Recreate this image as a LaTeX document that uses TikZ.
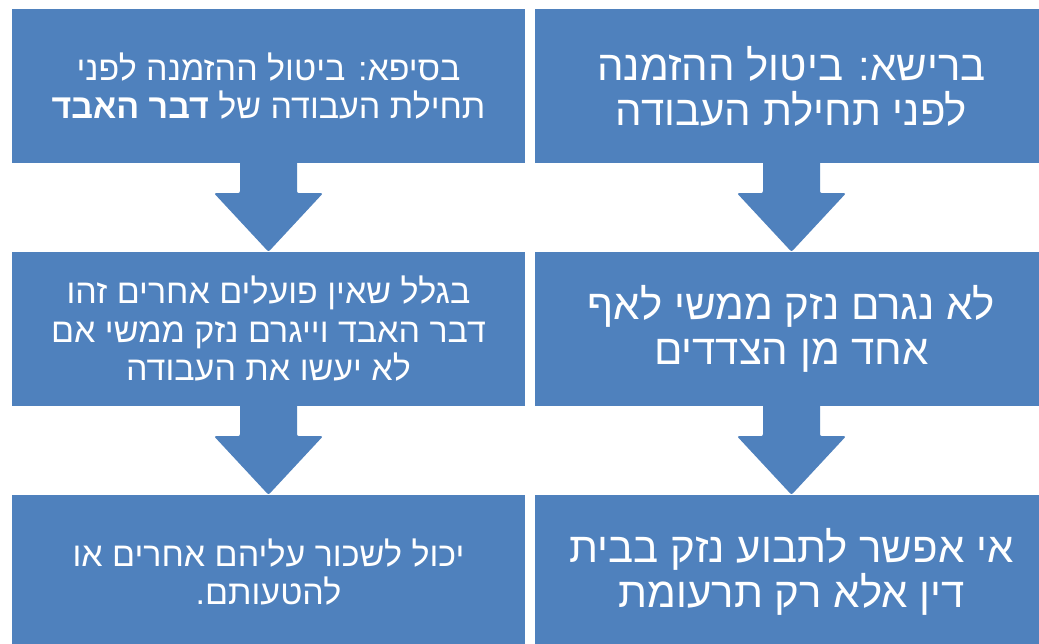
\documentclass[tikz,border=0pt]{standalone}
\usepackage{fontspec}
\usepackage{tikz}
\usetikzlibrary{calc}
\TeXXeTstate=1
\newfontfamily\hebfont[Script=Hebrew]{Liberation Sans}
\definecolor{cBlue}{RGB}{79,129,189}
\tikzset{
	box/.style     ={rectangle, fill=cBlue, text=white, align=center, inner sep=0pt, minimum width=513pt, minimum height=154pt},
	smalltxt/.style={box, font=\hebfont\fontsize{34}{38.5}\selectfont},
	bigtxt/.style  ={box, font=\hebfont\fontsize{42}{45}\selectfont},
	blockarrow/.style={fill=cBlue, rounded corners=2pt},
}

\begin{document}
\begin{tikzpicture}[x=1pt, y=-1pt]
	\clip (0,0) rectangle (1039,643);
	\fill[white] (0,0) rectangle (1039,643);
	% right column
	\node[bigtxt] (r1) at (791.5,86) {\beginR ברישא: ביטול ההזמנה\endR\\ \beginR לפני תחילת העבודה\endR};
	\node[bigtxt] (r2) at (791.5,329) {\beginR לא נגרם נזק ממשי לאף\endR\\ \beginR אחד מן הצדדים\endR};
	\node[bigtxt] (r3) at (791.5,572) {\beginR אי אפשר לתבוע נזק בבית\endR\\ \beginR דין אלא רק תרעומת\endR};
	% left column
	\node[smalltxt] (l1) at (268.5,86) {\beginR בסיפא: ביטול ההזמנה לפני\endR\\ \beginR תחילת העבודה של {\bfseries דבר האבד}\endR};
	\node[smalltxt] (l2) at (268.5,329) {\beginR בגלל שאין פועלים אחרים זהו\endR\\ \beginR דבר האבד וייגרם נזק ממשי אם\endR\\ \beginR לא יעשו את העבודה\endR};
	\node[smalltxt] (l3) at (268.5,572) {\beginR יכול לשכור עליהם אחרים או\endR\\ \beginR להטעותם.\endR};
	\foreach \a/\b in {l1/l2, l2/l3, r1/r2, r2/r3}
		\fill[blockarrow] ($(\a.south)+(-28.5,-4)$) -- ($(\a.south)+(-28.5,30)$) -- ($(\a.south)+(-54.5,30)$)
			-- (\b.north) -- ($(\a.south)+(54.5,30)$) -- ($(\a.south)+(28.5,30)$) -- ($(\a.south)+(28.5,-4)$) -- cycle;
\end{tikzpicture}
\end{document}
